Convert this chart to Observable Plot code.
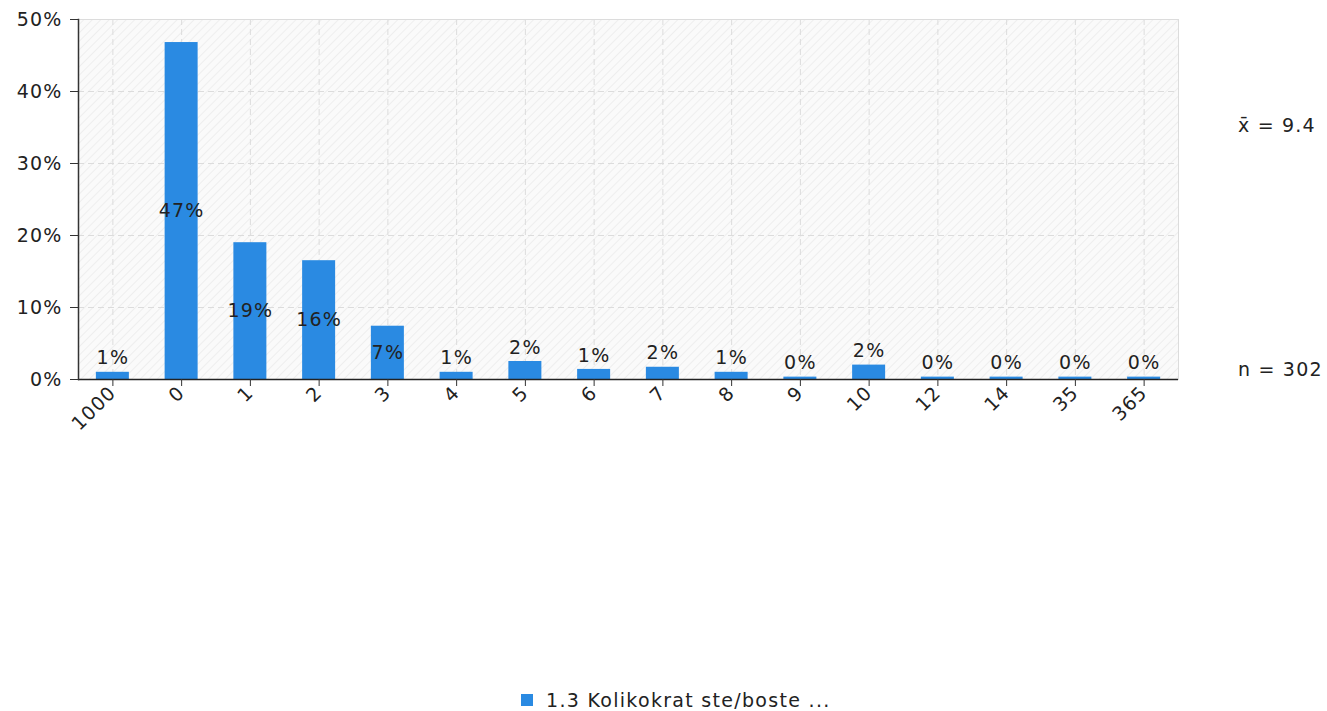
<!DOCTYPE html>
<html><head><meta charset="utf-8">
<script src="https://cdn.jsdelivr.net/npm/d3@7"></script>
<script src="https://cdn.jsdelivr.net/npm/@observablehq/plot@0.6"></script>
<style>
body{margin:0;background:#fff;font-family:"DejaVu Sans",Verdana,sans-serif;}
#wrap{position:relative;width:1327px;height:711px;overflow:hidden;}
#wrap svg{position:absolute;left:0;top:0;}
.stat{position:absolute;font-size:19px;letter-spacing:1.2px;color:#222;white-space:nowrap;line-height:22px;}
.legend{position:absolute;font-size:19px;letter-spacing:1.3px;color:#222;white-space:nowrap;line-height:18px;display:flex;align-items:center;}
.sw{display:inline-block;width:12px;height:12px;background:#2a8ae2;margin-right:13px;}
</style></head><body><div id="wrap"></div>
<script>
const categories = ["1000","0","1","2","3","4","5","6","7","8","9","10","12","14","35","365"];
const values = [1.0,46.8,19.0,16.5,7.4,1.0,2.5,1.4,1.7,1.0,0.33,2.0,0.33,0.33,0.33,0.33];
const labels = ["1%","47%","19%","16%","7%","1%","2%","1%","2%","1%","0%","2%","0%","0%","0%","0%"];
const yTicks = [0,10,20,30,40,50];
const meanText = "x\u0304 = 9.4";
const nText = "n = 302";
const seriesName = "1.3 Kolikokrat ste/boste ...";

const data = categories.map((c,i)=>({c, v: values[i], label: labels[i]}));
const color = "#2a8ae2";

const svg = Plot.plot({
  width: 1327, height: 440,
  marginTop: 19, marginBottom: 61, marginLeft: 78, marginRight: 149,
  style: {fontFamily: '"DejaVu Sans", Verdana, sans-serif', fontSize: "19px", letterSpacing: "1.2px", color: "#222", background: "transparent"},
  x: {domain: categories, paddingInner: 0.52, paddingOuter: 0.26, round: false, label: null},
  y: {domain: [0, 50], label: null},
  marks: [
    Plot.frame({fill: "url(#hatch)", stroke: "#dcdcdc"}),
    Plot.gridY(yTicks.slice(1, -1), {stroke: "#dcdcdc", strokeOpacity: 1, strokeDasharray: "6,4"}),
    Plot.gridX({stroke: "#dcdcdc", strokeOpacity: 1, strokeDasharray: "6,4"}),
    Plot.barY(data, {x: "c", y: "v", fill: color}),
    Plot.text(data.filter(d => d.v >= 5), {x: "c", y: d => d.v / 2, text: "label", fill: "#222"}),
    Plot.text(data.filter(d => d.v < 5), {x: "c", y: "v", text: "label", fill: "#222", dy: -14}),
    Plot.ruleY([0], {stroke: "#222", strokeWidth: 1.5}),
    Plot.frame({anchor: "left", stroke: "#333", strokeWidth: 1.5}),
    Plot.axisY({ticks: yTicks, tickFormat: d => d + "%", tickSize: 8, tickPadding: 8, stroke: "#333"}),
    Plot.axisX({tickRotate: -45, tickSize: 7, tickPadding: 3, stroke: "#333"})
  ]
});

const defs = d3.select(svg).insert("defs", ":first-child");
const p = defs.append("pattern").attr("id", "hatch").attr("patternUnits", "userSpaceOnUse")
  .attr("width", 6).attr("height", 6).attr("patternTransform", "rotate(45)");
p.append("rect").attr("width", 6).attr("height", 6).attr("fill", "#fafafa");
p.append("line").attr("x1", 0).attr("y1", 0).attr("x2", 0).attr("y2", 6).attr("stroke", "#ebebeb").attr("stroke-width", 1.5);

const wrap = document.getElementById("wrap");
wrap.appendChild(svg);

const m = document.createElement("div"); m.className = "stat"; m.textContent = meanText;
m.style.left = "1238px"; m.style.top = "114px"; wrap.appendChild(m);
const n = document.createElement("div"); n.className = "stat"; n.textContent = nText;
n.style.left = "1238px"; n.style.top = "358px"; wrap.appendChild(n);

const lg = document.createElement("div"); lg.className = "legend";
const sw = document.createElement("span"); sw.className = "sw"; lg.appendChild(sw);
const lt = document.createElement("span"); lt.textContent = seriesName; lg.appendChild(lt);
lg.style.left = "521px"; lg.style.top = "690px"; lg.style.height = "20px"; wrap.appendChild(lg);
</script></body></html>
